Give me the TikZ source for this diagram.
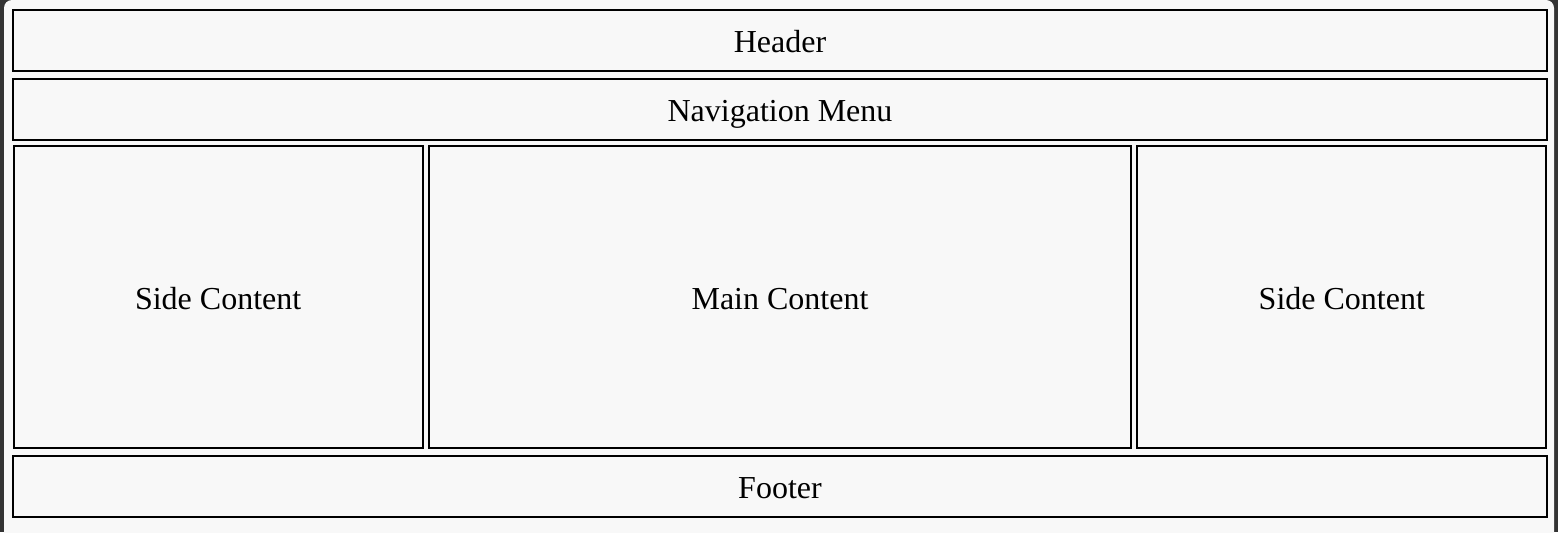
\documentclass[tikz,border=0pt]{standalone}
\usepackage{fontspec}
\setmainfont{Liberation Serif}
\usetikzlibrary{positioning}
\usepackage{xcolor}
\definecolor{pageframe}{HTML}{333333}
\definecolor{pagefill}{HTML}{F8F8F8}

\begin{document}
\begin{tikzpicture}[
    x=0.75pt, y=-0.75pt,
    region/.style={
        rectangle,
        draw=black,
        line width=1.5pt,
        outer sep=0pt,
        inner sep=0pt,
        text height=21.4pt,
        text depth=2.2pt,
        font=\fontsize{24}{28}\selectfont
    },
    fullrow/.style={
        region,
        minimum width=1150pt,
        minimum height=#1
    },
    column/.style={
        region,
        minimum width=#1,
        minimum height=226pt
    }
]

% Page frame
\useasboundingbox (0,0) rectangle (1558,532);
\fill[pageframe] (0,0) rectangle (1558,532);
\begin{scope}
\clip (0,0) rectangle (1558,532);
\fill[pagefill, rounded corners=6pt] (4,0) rectangle (1554,560);
\end{scope}

% Rows
\node[fullrow=45.75pt] (header) at (780,40) {Header};
\node[fullrow=46pt, below=6pt of header] (nav) {Navigation Menu};

% Columns
\node[column=527pt, below=4.875pt of nav] (main) {Main Content};
\node[column=306.75pt, left=4.5pt of main] (leftside) {Side Content};
\node[column=306.75pt, right=4.5pt of main] (rightside) {Side Content};

% Footer
\node[fullrow=45.75pt, below=6pt of main] (footer) {Footer};

\end{tikzpicture}
\end{document}
